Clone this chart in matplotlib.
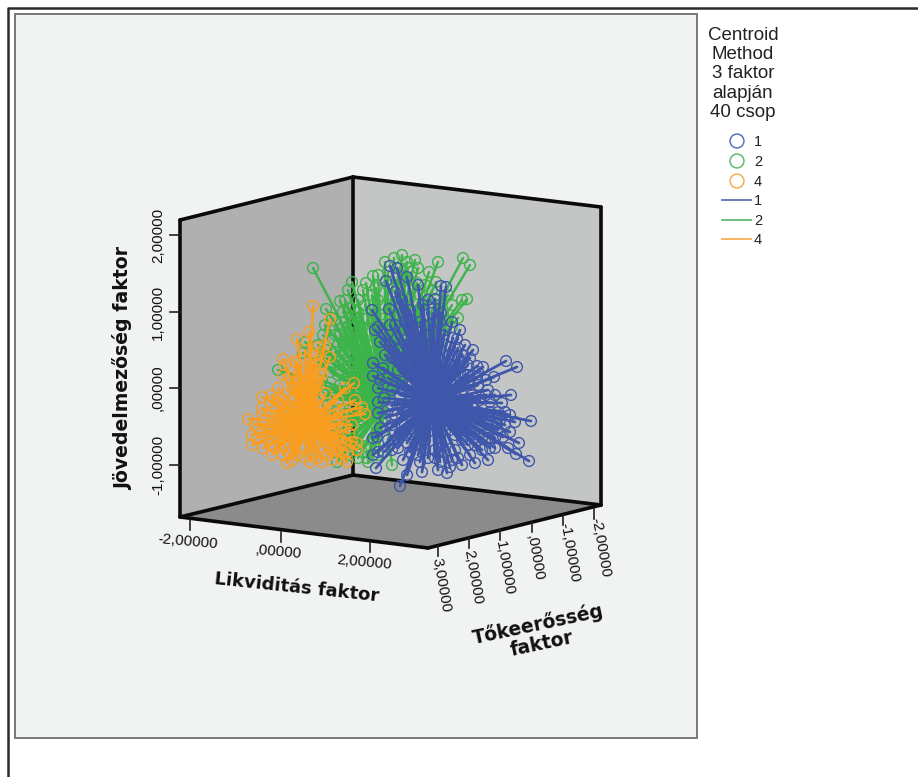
import matplotlib
matplotlib.use("Agg")
import matplotlib.pyplot as plt
from matplotlib.patches import Polygon, Rectangle

# Cluster members (projected position, in reference pixels)
green_center = (385, 405)
green_points = [(313,268),(326,309),(323,335),(305,342),(303,353),(352,282),(348,290),(340,301),(366,283),(378,275),
 (373,276),(363,290),(343,312),(335,335),(355,318),(355,327),(402,255),(394,258),(407,262),(438,262),(463,258),(470,265),
 (429,272),(417,283),(408,268),(462,300),(467,299),(452,305),(425,302),(452,327),(443,313),(278,370),(337,462),(367,458),
 (392,465),(385,262),(412,272),(398,275),(388,285),(372,295),(358,300),(350,308),(365,305),(378,300),(392,295),(405,290),
 (420,295),(432,290),(437,300),(445,320),(418,310),(405,305),(380,315),(368,318),(345,322),(332,318),(338,345),(326,350),
 (320,362),(330,372),(322,380),(335,392),(328,405),(340,410),(332,425),(345,440),(335,352),(350,345),(362,340),(375,335),
 (390,330),(402,325),(345,360),(358,355),(370,352),(352,372),(365,370),(345,382),(358,390),(348,400),(362,412),(350,420),
 (360,430),(372,440),(352,448),(362,452),(378,455),(340,335),(350,332),(362,328),(372,322),(385,318),(398,315),(412,320),
 (425,325),(435,335),(440,345),(368,345),(380,345),(392,345),(340,370),(372,385),(318,345),(325,325),(368,462),
 (328,358),(333,363),(338,375),(326,388),(332,398),(324,395),(336,418),(328,415),(340,430),(335,438),(342,448),(350,455),
 (358,458),(345,352),(352,338),(358,345),(345,342),(338,362),(348,366),(356,378),(340,385),(350,392),(342,395),(354,410),
 (344,425),(352,438),(358,444),(366,446),(375,448),(365,392),(372,405),(368,420),(376,425),(362,362),(374,365),(382,360),
 (368,375),(378,375),(388,365),(396,358),(358,312),(372,310),(385,305),(395,305),(345,300),(330,330),(342,328),(376,288),
 (388,272),(400,268),(415,260),(418,268),(405,278),(392,310),(410,298),(425,285),(436,282),(448,295),(458,318),(440,305)]

orange_center = (308, 422)
orange_points = [(313,306),(330,319),(309,332),(297,339),(283,359),(295,361),(330,357),(318,347),(248,419),(262,397),
 (262,415),(278,388),(270,402),(292,388),(252,435),(252,445),(263,448),(287,463),(304,457),(317,458),(342,459),(347,462),
 (357,443),(357,450),(349,433),(340,427),(354,383),(345,388),(326,393),(355,400),(355,408),(362,407),(365,414),(330,415),
 (318,400),(280,447),(290,453),(285,365),(297,363),(312,365),(320,365),(290,377),(298,377),(257,438),(270,427),(277,438),
 (323,447),(333,440),(305,350),(315,355),(325,345),(300,372),(310,378),(322,375),(283,375),(272,395),(282,405),(292,400),
 (258,428),(268,438),(265,420),(278,415),(285,430),(275,448),(295,445),(305,448),(312,452),(328,455),(335,450),(345,445),
 (352,425),(342,415),(338,400),(318,415),(300,410),(295,420),(305,435),(320,435),(330,430),(312,392),(302,390),(288,412),
 (262,408),(255,425),(272,455),(297,455),(310,462),(322,462),(332,460),(348,452),
 (278,398),(285,395),(296,382),(305,382),
 (318,385),(262,432),(270,445),(278,428),(288,442),(298,438),(283,455),(292,460),(338,438),(342,452),(352,442),(325,425),
 (335,420),(345,425),(315,445),(325,440),(330,448),(310,440),(320,408),(312,405),(302,398),(295,408),(285,420),(275,410),
 (298,428),(308,412)]

blue_center = (432, 402)
blue_points = [(390,266),(397,268),(386,281),(407,277),(395,292),(441,286),(446,287),(435,299),(423,305),(389,309),
 (410,310),(432,313),(441,313),(395,325),(378,327),(372,310),(375,330),(397,338),(380,342),(385,355),(430,325),(445,330),
 (457,339),(465,345),(450,347),(506,361),(477,366),(483,367),(517,367),(458,357),(373,363),(383,368),(511,395),(531,421),
 (515,422),(510,415),(502,403),(494,377),(477,378),(529,461),(516,454),(519,443),(503,437),(488,460),(475,463),(462,465),
 (452,460),(440,462),(447,473),(450,467),(422,472),(407,475),(400,486),(376,468),(420,462),(489,438),(475,445),(497,423),
 (490,402),(378,388),(392,390),(378,402),(378,413),(385,418),(377,437),(378,452),(392,450),(403,460),(407,443),(373,438),
 (373,455),(373,376),(380,428),(388,440),(395,432),(388,378),(398,370),(408,352),(415,335),(425,345),(438,345),(420,322),
 (405,322),(402,300),(418,285),(428,300),(440,322),(452,322),(462,355),(470,358),(478,385),(488,390),(495,395),(505,412),
 (498,412),(490,412),(480,400),(472,395),(468,375),(460,372),(450,365),(440,360),(425,362),(410,368),(402,382),(412,392),
 (400,405),(395,415),(405,425),(415,432),(408,410),(418,415),(425,440),(435,450),(445,440),(455,450),(462,440),(470,430),
 (480,425),(488,425),(498,430),(510,432),(508,448),(495,448),(482,450),(470,455),(455,435),(445,425),(458,415),(468,412),
 (478,412),(462,395),(452,385),(445,395),(420,385),(430,375),(415,375),(430,425),(440,410),(418,398),(452,405),(432,392),
 (437,412),(425,408),(443,382),(410,452),(398,448),(428,458),(438,470),(465,425),(475,415),(486,380),(455,375),(398,350),
 (390,345),(405,340),(412,325),(390,325),(460,330),(380,380),(384,398),(388,410),(392,425),(384,452),
 (415,350),(425,335),(435,350),(448,355),(458,348),(468,365),(478,372),(486,395),(472,405),(482,415),(466,420),(474,438),
 (482,438),(490,448),(468,445),(458,458),(445,452),(435,458),(425,450),(415,445),(418,455),(405,435),(398,440),(412,420),
 (420,425),(402,415),(392,405),(400,395),(410,380),(420,365),(430,360),(440,370),(450,375),(460,385),(470,385),(458,405),
 (448,415),(438,425),(428,432),(450,430),(462,430),(440,438),(430,415),(420,405),(425,392),(435,385),(445,405),(455,395),
 (466,400),(410,402),(402,362),(412,342),(392,358),(443,335),(453,338),(473,350),(500,420),(505,425),(495,438),(460,362)]

depth_tick_labels = ["3,00000", "2,00000", "1,00000", ",00000", "-1,00000", "-2,00000"]
width_tick_labels = ["-2,00000", ",00000", "2,00000"]
height_tick_labels = ["2,00000", "1,00000", ",00000", "-1,00000"]
legend_labels = ["1", "2", "4"]

BLUE, GREEN, ORANGE = "#3f57ab", "#3cb44a", "#f99d1f"
SANS = "Liberation Sans"

fig = plt.figure(figsize=(9.18, 7.77), dpi=100, facecolor="white")
ax = fig.add_axes([0, 0, 1, 1])
ax.set_xlim(0, 918); ax.set_ylim(777, 0); ax.axis("off")

# outer frame and panel
ax.plot([8, 8, 918], [777, 8, 8], color="#2a2a2a", lw=1.8, zorder=1)
ax.add_patch(Rectangle((15, 14), 682, 724, fc="#f1f3f2", ec="#777777", lw=1.4, zorder=1))

# box walls
back_t, back_b = (353, 177), (353, 475)
ax.add_patch(Polygon([(180,220),back_t,back_b,(180,517)], fc="#b0b0b0", ec="none", zorder=2))
ax.add_patch(Polygon([back_t,(601,207),(601,505),back_b], fc="#c4c6c5", ec="none", zorder=2))
ax.add_patch(Polygon([(180,517),back_b,(601,505),(428,548)], fc="#8b8b8b", ec="none", zorder=2))
edges = [[(180,220),back_t],[back_t,(601,207)],[back_t,back_b],[(180,220),(180,517)],[(601,207),(601,505)],
         [(180,517),back_b],[back_b,(601,505)],[(180,517),(428,548)],[(428,548),(601,505)]]
for a, b in edges:
    ax.plot([a[0], b[0]], [a[1], b[1]], color="#0a0a0a", lw=2.6, solid_capstyle="round", zorder=3)

# ticks
TICK_FS = 11
for y, lab in zip([235, 312, 388, 465], height_tick_labels):
    ax.plot([170, 180], [y, y], color="#222222", lw=1.2, zorder=3)
    ax.text(158, y, lab, rotation=90, ha="center", va="center", fontsize=TICK_FS, family=SANS, color="#111111")
for (x, y0, y1, lx, ly), lab in zip([(190,520,530,188,542),(281,532,542,278,552),(370,542,552,364,562)], width_tick_labels):
    ax.plot([x, x], [y0, y1], color="#222222", lw=1.2, zorder=3)
    ax.text(lx, ly, lab, rotation=-5, ha="center", va="center", fontsize=TICK_FS, family=SANS, color="#111111")
for (x, y0, y1, lx, ly), lab in zip([(438,546,556,441,585),(469,538,548,473,577),(500,530,540,505,568),
                                     (532,522,532,535,558),(563,515,525,570,553),(594,509,519,601,548)], depth_tick_labels):
    ax.plot([x, x], [y0, y1], color="#222222", lw=1.2, zorder=3)
    ax.text(lx, ly, lab, rotation=-80, ha="center", va="center", fontsize=TICK_FS, family=SANS, color="#111111")

# axis titles
ax.text(123, 369, "Jövedelmezőség faktor", rotation=90, ha="center", va="center", fontsize=13.6, fontweight="bold", color="#111111")
ax.text(297, 588, "Likviditás faktor", rotation=-6, ha="center", va="center", fontsize=13, fontweight="bold", color="#111111")
ax.text(540, 634, "Tőkeerősség\nfaktor", rotation=12, ha="center", va="center", fontsize=13.5, fontweight="bold", color="#111111", linespacing=1.0)

# clusters: spikes to the centroid, then open circles
for center, pts, col, z, lw in [(green_center, green_points, GREEN, 4, 1.7), (orange_center, orange_points, ORANGE, 5, 1.7), (blue_center, blue_points, BLUE, 6, 2.0)]:
    for x, y in pts:
        ax.plot([center[0], x], [center[1], y], color=col, lw=lw, zorder=z, solid_capstyle="round")
    ax.scatter([p[0] for p in pts], [p[1] for p in pts], s=60, facecolors="none", edgecolors=col, linewidths=1.0, zorder=z)

# legend
ax.text(743, 74, "Centroid\nMethod\n3 faktor\nalapján\n40 csop", ha="center", va="center", fontsize=13.5, family=SANS, color="#222222", linespacing=1.16)
legend_colors = ["#5a72bb", "#62b96f", "#f7ae55"]
for y, lab, c in zip([141, 161, 181], legend_labels, legend_colors):
    ax.scatter([737], [y], s=100, facecolors="none", edgecolors=c, linewidths=1.1, zorder=4)
    ax.text(754, y + 1, lab, ha="left", va="center", fontsize=10.5, family=SANS, color="#222222")
for y, lab, c in zip([200, 220, 239], legend_labels, legend_colors):
    ax.plot([722, 751], [y, y], color=c, lw=1.3, zorder=4)
    ax.text(754, y + 1, lab, ha="left", va="center", fontsize=10.5, family=SANS, color="#222222")

fig.savefig("out.png", dpi=100, facecolor="white")
